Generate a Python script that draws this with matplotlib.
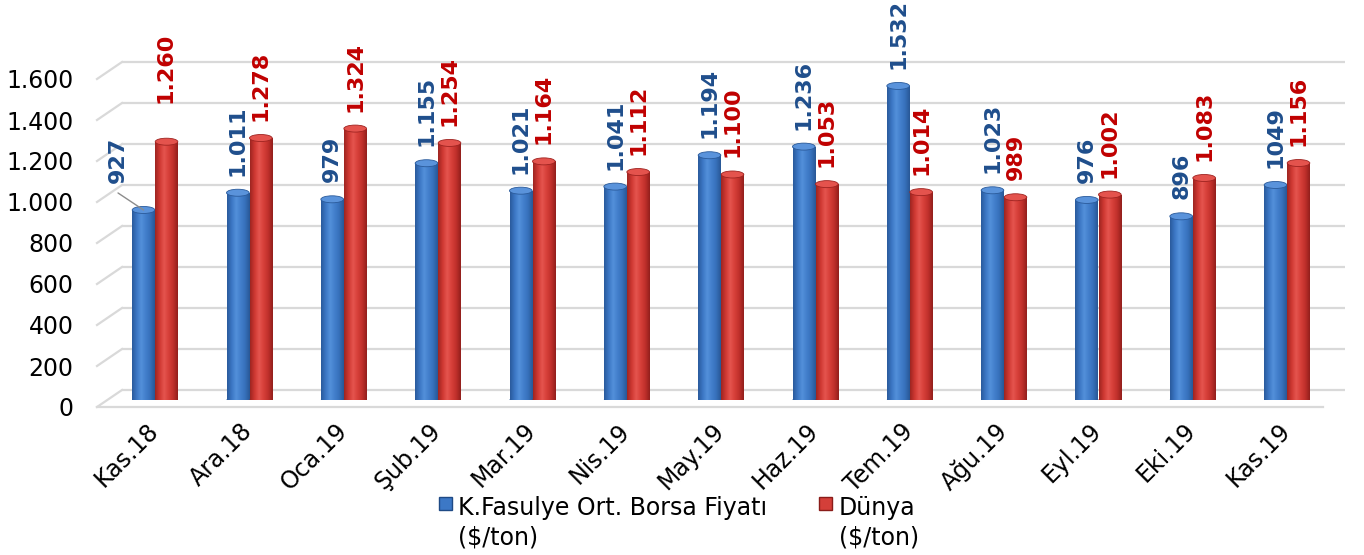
import numpy as np
import matplotlib
matplotlib.use("Agg")
import matplotlib.pyplot as plt
import matplotlib.transforms as mtransforms
from matplotlib.colors import LinearSegmentedColormap
from matplotlib.patches import Ellipse, Rectangle

# ---------------- data ----------------
categories = ["Kas.18", "Ara.18", "Oca.19", "Şub.19", "Mar.19", "Nis.19", "May.19",
              "Haz.19", "Tem.19", "Ağu.19", "Eyl.19", "Eki.19", "Kas.19"]
blue_values = [927, 1011, 979, 1155, 1021, 1041, 1194, 1236, 1532, 1023, 976, 896, 1049]
red_values = [1260, 1278, 1324, 1254, 1164, 1112, 1100, 1053, 1014, 989, 1002, 1083, 1156]
blue_labels = ["927", "1.011", "979", "1.155", "1.021", "1.041", "1.194", "1.236",
               "1.532", "1.023", "976", "896", "1049"]
red_labels = ["1.260", "1.278", "1.324", "1.254", "1.164", "1.112", "1.100", "1.053",
              "1.014", "989", "1.002", "1.083", "1.156"]
y_ticks = [0, 200, 400, 600, 800, 1000, 1200, 1400, 1600]
y_tick_labels = ["0", "200", "400", "600", "800", "1.000", "1.200", "1.400", "1.600"]
series_names = ["K.Fasulye Ort. Borsa Fiyatı", "Dünya"]
unit_label = r"(\$/ton)"

# ---------------- layout ----------------
W, H = 1364, 555
fig = plt.figure(figsize=(W / 100, H / 100), dpi=100)
fig.patch.set_facecolor("white")
plt.rcParams["font.family"] = ["DejaVu Sans"]


def fx(px):
    return px / W


def fy(py):
    return 1 - py / H


ax = fig.add_axes([fx(97), fy(400), fx(1345) - fx(97), fy(72) - fy(400)])
x0, x1 = -0.615, 12.615
ax.set_xlim(x0, x1)
ax.set_ylim(0, 1600)
for s in ax.spines.values():
    s.set_visible(False)
ax.set_facecolor("none")

upx = 1600 / 328.0          # data units per vertical pixel
xpx = 1.0 / 94.33           # data units per horizontal pixel
grid_c = "#D9D9D9"

# perspective gridlines (back wall + left wall)
xb = x0 + 25 * xpx
for v in y_ticks:
    ax.plot([xb, x1], [v + 10 * upx, v + 10 * upx], color=grid_c, lw=1.6,
            zorder=0, clip_on=False, solid_capstyle="butt")
    ax.plot([x0, xb], [v - 7 * upx, v + 10 * upx], color=grid_c, lw=1.6,
            zorder=0, clip_on=False)
# floor front edge
ax.plot([x0, x1 - 22 * xpx], [-7 * upx, -7 * upx], color=grid_c, lw=1.6,
        zorder=0, clip_on=False)

# y tick labels (front plane, shifted down)
ax.set_yticks(y_ticks, y_tick_labels)
ax.tick_params(axis="y", length=0, pad=17, labelsize=17)
shift_y = mtransforms.ScaledTranslation(0, -7 / 100, fig.dpi_scale_trans)
for lbl in ax.get_yticklabels():
    lbl.set_transform(lbl.get_transform() + shift_y)

# x tick labels
xs = np.arange(len(categories))
ax.set_xticks(xs, categories, rotation=45, ha="right", rotation_mode="anchor")
ax.tick_params(axis="x", length=0, pad=13.5, labelsize=17)
shift_x = mtransforms.ScaledTranslation(-9 / 100, 0, fig.dpi_scale_trans)
for lbl in ax.get_xticklabels():
    lbl.set_transform(lbl.get_transform() + shift_x)

# ---------------- cylinder bars ----------------
bw = 0.24
boff = 0.122
blue_cmap = LinearSegmentedColormap.from_list(
    "bcyl", ["#2A5A9C", "#3B76C4", "#5390DA", "#437FCC", "#3670BA", "#285796"])
red_cmap = LinearSegmentedColormap.from_list(
    "rcyl", ["#9E2521", "#CF3832", "#E5544E", "#D63F39", "#C0302B", "#921F1C"])
grad = np.linspace(0, 1, 64).reshape(1, -1)
cap_h = 7 * upx


def draw_series(xpos, values, cmap, top_c, edge_c, z):
    bars = ax.bar(xpos, values, bw, color=top_c, edgecolor="none", zorder=z)
    for rect, xc, v in zip(bars.patches, xpos, values):
        im = ax.imshow(grad, extent=[xc - bw / 2, xc + bw / 2, 0, v], aspect="auto",
                       cmap=cmap, zorder=z + 0.1, interpolation="bilinear")
        im.set_clip_path(rect)
        ax.add_patch(Ellipse((xc, 0), bw, cap_h, facecolor=edge_c, edgecolor="none",
                             zorder=z - 0.05))
        ax.add_patch(Ellipse((xc, v), bw, cap_h, facecolor=top_c, edgecolor=edge_c,
                             lw=0.6, zorder=z + 0.2))


draw_series(xs - boff, blue_values, blue_cmap, "#5A93DB", "#2A5A9A", 2)
draw_series(xs + boff, red_values, red_cmap, "#E4534D", "#9E2320", 3)
ax.set_xlim(x0, x1)
ax.set_ylim(0, 1600)

# ---------------- data labels ----------------
blue_txt = "#1F4E8C"
red_txt = "#C00000"
blue_off = [(-25.5, 27)] + [(0, 17)] * 12
red_off = [(-1, 39)] + [(0, 17)] * 12
for i in range(len(categories)):
    ax.annotate(blue_labels[i], xy=(xs[i] - boff, blue_values[i]), xytext=blue_off[i],
                textcoords="offset pixels", rotation=90, ha="center", va="bottom",
                fontsize=16, fontweight="bold", color=blue_txt, zorder=6,
                annotation_clip=False)
    ax.annotate(red_labels[i], xy=(xs[i] + boff, red_values[i]), xytext=red_off[i],
                textcoords="offset pixels", rotation=90, ha="center", va="bottom",
                fontsize=16, fontweight="bold", color=red_txt, zorder=6,
                annotation_clip=False)
# leader line for first blue label
ax.annotate("", xy=(xs[0] - boff, blue_values[0]), xytext=(-25.5, 17),
            textcoords="offset pixels",
            arrowprops=dict(arrowstyle="-", color="#8C8C8C", lw=1.0,
                            shrinkA=0, shrinkB=0), annotation_clip=False)

# ---------------- legend ----------------
leg_items = [(439, 458, "#3C78C6", "#1F4A85"), (819, 839, "#D43F39", "#8A1C19")]
for (mx, tx, fc, ec), name in zip(leg_items, series_names):
    fig.add_artist(Rectangle((fx(mx), fy(510)), fx(13), 13 / H, facecolor=fc,
                             edgecolor=ec, lw=1.0, transform=fig.transFigure))
    fig.text(fx(tx), fy(508), name, fontsize=17, va="center", ha="left")
    fig.text(fx(tx), fy(537), unit_label, fontsize=17, va="center", ha="left")

fig.savefig("out.png", dpi=100, facecolor="white")
